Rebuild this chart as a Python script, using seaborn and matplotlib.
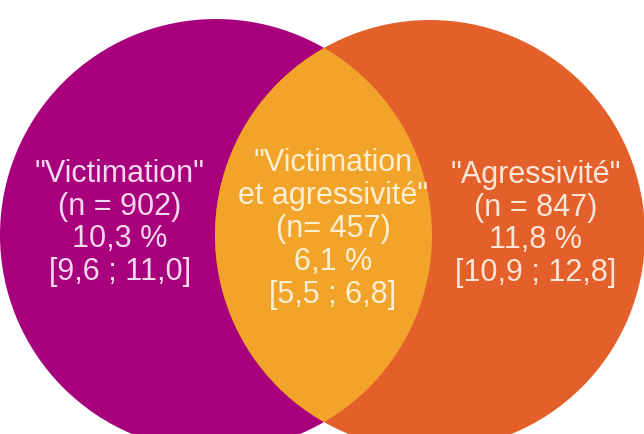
import matplotlib
matplotlib.use("Agg")
import matplotlib.pyplot as plt
import seaborn as sns
from matplotlib.patches import Circle

# Venn data
groups = ['"Victimation"', '"Victimation\net agressivité"', '"Agressivité"']
counts = ["(n = 902)", "(n= 457)", "(n = 847)"]
percents = ["10,3 %", "6,1 %", "11,8 %"]
intervals = ["[9,6 ; 11,0]", "[5,5 ; 6,8]", "[10,9 ; 12,8]"]

sns.set_style("white")
plt.rcParams["font.family"] = ["Liberation Sans", "DejaVu Sans"]

purple = "#A8007C"
orange = "#E4602B"
yellow = "#F2A42A"

fig = plt.figure(figsize=(6.44, 4.34), dpi=100)
ax = fig.add_axes([0, 0, 1, 1])
ax.set_xlim(0, 644)
ax.set_ylim(434, 0)
ax.set_aspect("equal")
ax.axis("off")

# Two circles, overlap drawn as the right circle clipped to the left one
left = Circle((216, 235), 216, color=purple, lw=0)
right = Circle((430, 235), 215, color=orange, lw=0)
ax.add_patch(left)
ax.add_patch(right)
lens = Circle((430, 235), 215, color=yellow, lw=0)
ax.add_patch(lens)
lens.set_clip_path(left)

# Labels
text_x = [120, 333, 536]
text_y = [223, 229, 224]
text_colors = ["#F7D9EE", "#FCEFD3", "#FBE6D9"]
for i in range(3):
    label = "\n".join([groups[i], counts[i], percents[i], intervals[i]])
    ax.text(text_x[i], text_y[i], label, ha="center", va="center",
            fontsize=22, color=text_colors[i], linespacing=1.12)

fig.savefig("out.png", dpi=100)
